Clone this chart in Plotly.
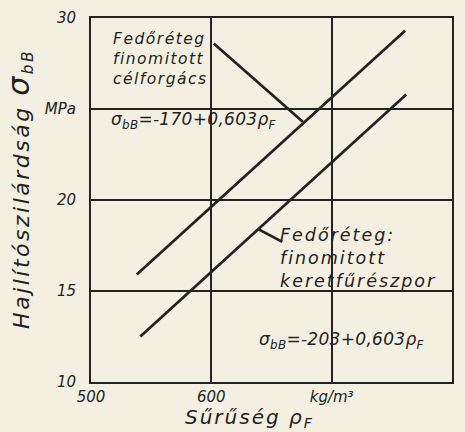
import plotly.graph_objects as go

# --- data ---
density_cel = [538, 761]          # kg/m3, célforgács line
strength_cel = [15.9, 29.3]       # MPa
density_keret = [541, 762]        # kg/m3, keretfűrészpor line
strength_keret = [12.5, 25.8]     # MPa

x_tickvals = [500, 600, 700, 800]
x_ticktext = ["500", "600", "kg/m³", "800"]
y_tickvals = [10, 15, 20, 25, 30]
y_ticktext = ["10", "15", "20", "MPa", "30"]

# leader lines (data coordinates)
leader_cel_x = [602, 676]
leader_cel_y = [28.6, 24.3]
leader_keret_x = [639, 659]
leader_keret_y = [18.4, 17.7]

label_cel = ["Fedőréteg", "finomitott", "célforgács"]
label_keret = ["Fedőréteg:", "finomitott", "keretfűrészpor"]
eq_cel = "σ<sub>bB</sub>=-170+0,603ρ<sub>F</sub>"
eq_keret = "σ<sub>bB</sub>=-203+0,603ρ<sub>F</sub>"
x_title = "Sűrűség ρ<sub>F</sub>"
y_title = 'Hajlítószilárdság <span style="font-size:30px">σ</span><sub>bB</sub>'

INK = "#222222"
BG = "#f3f0e1"
FONT = "DejaVu Sans"


def spaced(text, px):
    return '<span style="letter-spacing:%spx">%s</span>' % (px, text)


fig = go.Figure()
for xs, ys in [(density_cel, strength_cel), (density_keret, strength_keret),
               (leader_cel_x, leader_cel_y), (leader_keret_x, leader_keret_y)]:
    fig.add_trace(go.Scatter(x=xs, y=ys, mode="lines",
                             line=dict(color=INK, width=2.7),
                             hoverinfo="skip", showlegend=False))

def txt(x, y, text, size, xanchor="left", yanchor="middle", angle=0, xref="x", yref="y"):
    fig.add_annotation(x=x, y=y, xref=xref, yref=yref, text=text, showarrow=False,
                       xanchor=xanchor, yanchor=yanchor, align="left", textangle=angle,
                       font=dict(family=FONT, size=size, color=INK, style="italic"))

txt(517, 29.45, "<br>".join(spaced(t, 1.5) for t in label_cel), 15.5, yanchor="top")
txt(515, 24.35, spaced(eq_cel, 0.3), 17)
txt(655, 18.75, "<br>".join(spaced(t, 2) for t in label_keret), 17.5, yanchor="top")
txt(638, 12.3, spaced(eq_keret, 0.3), 17)
txt(632, -0.1, spaced(x_title, 2), 20, xanchor="center", yanchor="middle", yref="paper")
txt(-0.2, 0.53, spaced(y_title, 2.5), 22, xanchor="center", yanchor="middle", angle=-90,
    xref="paper", yref="paper")

fig.update_layout(
    width=465, height=432,
    margin=dict(l=91, r=13, t=18, b=50),
    paper_bgcolor=BG, plot_bgcolor=BG,
    xaxis=dict(range=[500, 800], tickvals=x_tickvals, ticktext=x_ticktext,
               showgrid=True, gridcolor=INK, gridwidth=1.6, automargin=False,
               showline=True, linecolor=INK, linewidth=2, mirror=True,
               zeroline=False, ticks="", ticklabelstandoff=0,
               tickfont=dict(family=FONT, size=15, color=INK, style="italic")),
    yaxis=dict(range=[10, 30], tickvals=y_tickvals, ticktext=y_ticktext,
               showgrid=True, gridcolor=INK, gridwidth=1.6, automargin=False,
               showline=True, linecolor=INK, linewidth=2, mirror=True,
               zeroline=False, ticks="", ticklabelstandoff=10,
               tickfont=dict(family=FONT, size=15, color=INK, style="italic")),
)

fig.write_html("out.html", config={"displayModeBar": False},
               post_script="document.body.style.margin='0';"
                           "document.body.style.overflow='hidden';"
                           "document.body.style.background='" + BG + "';")
